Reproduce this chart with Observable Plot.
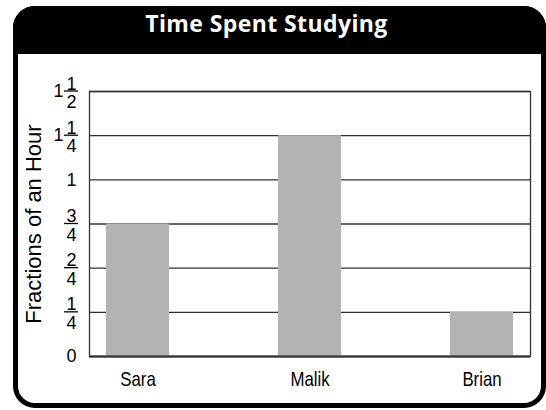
<!DOCTYPE html>
<html>
<head>
<meta charset="utf-8">
<script src="https://cdn.jsdelivr.net/npm/d3@7"></script>
<script src="https://cdn.jsdelivr.net/npm/@observablehq/plot@0.6"></script>
<style>
  html, body { margin: 0; padding: 0; background: white; width: 546px; height: 410px; overflow: hidden; }
  #box { position: absolute; left: 13px; top: 6px; width: 533px; height: 402px; box-sizing: border-box;
         border: 5px solid #000; border-radius: 22px; background: #fff; }
  #head { position: absolute; left: 13px; top: 6px; width: 533px; height: 48px; background: #000;
          border-radius: 22px 22px 0 0; }
  #title { position: absolute; left: 0px; top: 12px; width: 533px; text-align: center; color: #fff;
           font-family: "Open Sans", "Noto Sans", sans-serif; font-weight: 700; font-size: 23px; line-height: 23px;
           letter-spacing: 0.4px; }
  #chart { position: absolute; left: 0; top: 54px; }
</style>
</head>
<body>
<div id="box"></div>
<div id="head"></div>
<div id="title">Time Spent Studying</div>
<div id="chart"></div>
<script>
const names = ["Sara", "Malik", "Brian"];
const hours = [0.75, 1.25, 0.25];

const tickValues = [0, 0.25, 0.5, 0.75, 1, 1.25, 1.5];
const tickWhole  = ["0", "", "", "", "1", "1", "1"];
const tickNum    = ["", "1", "2", "3", "", "1", "1"];
const tickDen    = ["", "4", "4", "4", "", "4", "2"];
const axisTitle = "Fractions of an Hour";

const data = names.map((name, i) => ({name, value: hours[i]}));
const ticks = tickValues.map((v, i) => ({v, whole: tickWhole[i], num: tickNum[i], den: tickDen[i]}));
const fracTicks = ticks.filter(d => d.num !== "");
const plainTicks = ticks.filter(d => d.num === "");
const mixedTicks = ticks.filter(d => d.num !== "" && d.whole !== "");

const tickFont = "'Liberation Sans', Arial, Helvetica, sans-serif";

function fractionBars(index, scales, values, dimensions) {
  const ns = "http://www.w3.org/2000/svg";
  const g = document.createElementNS(ns, "g");
  for (const t of fracTicks) {
    const line = document.createElementNS(ns, "line");
    const y = scales.y(t.v);
    line.setAttribute("x1", dimensions.marginLeft - 25);
    line.setAttribute("x2", dimensions.marginLeft - 11);
    line.setAttribute("y1", y);
    line.setAttribute("y2", y);
    line.setAttribute("stroke", "#000");
    line.setAttribute("stroke-width", 1.3);
    g.appendChild(line);
  }
  return g;
}

const chart = Plot.plot({
  width: 546,
  height: 356,
  marginTop: 37,
  marginBottom: 54,
  marginLeft: 89,
  marginRight: 16,
  style: {background: "transparent", color: "#000"},
  x: {domain: names, paddingInner: 0.635, paddingOuter: 0.096, axis: null},
  y: {domain: [0, 1.5], axis: null},
  marks: [
    Plot.ruleY(tickValues, {stroke: "#333", strokeWidth: 1.3}),
    Plot.barY(data, {x: "name", y: "value", fill: "#b3b3b3"}),
    Plot.ruleY([0], {stroke: "#333", strokeWidth: 2}),
    Plot.frame({stroke: "#333", strokeWidth: 1.3}),
    // x labels
    Plot.text(data, {x: "name", frameAnchor: "bottom", dy: 29, text: "name",
      textAnchor: "middle", fontSize: 21, fontFamily: tickFont, fill: "#000"}),
    // plain y ticks
    Plot.text(plainTicks, {y: "v", text: "whole", frameAnchor: "left", dx: -18,
      textAnchor: "middle", fontSize: 18, fontFamily: tickFont, fill: "#000"}),
    // whole parts of mixed numbers
    Plot.text(mixedTicks, {y: "v", text: "whole", frameAnchor: "left", dx: -31,
      textAnchor: "middle", fontSize: 18, fontFamily: tickFont, fill: "#000"}),
    // numerators
    Plot.text(fracTicks, {y: "v", text: "num", frameAnchor: "left", dx: -18, dy: -2,
      lineAnchor: "bottom", textAnchor: "middle", fontSize: 18, fontFamily: tickFont, fill: "#000"}),
    // denominators
    Plot.text(fracTicks, {y: "v", text: "den", frameAnchor: "left", dx: -18, dy: 4,
      lineAnchor: "top", textAnchor: "middle", fontSize: 18, fontFamily: tickFont, fill: "#000"}),
    fractionBars,
    // axis title
    Plot.text([axisTitle], {frameAnchor: "left", dx: -56, rotate: -90, text: d => d,
      textAnchor: "middle", fontSize: 22, fontFamily: tickFont, fill: "#000"})
  ]
});
document.getElementById("chart").appendChild(chart);

// condense the category labels to mimic a narrow typeface
d3.select(chart).selectAll("text").each(function() {
  const nodes = this.querySelectorAll("tspan");
  const targets = nodes.length ? Array.from(nodes) : [this];
  for (const t of targets) {
    if (names.includes(t.textContent.trim())) {
      const w = t.getComputedTextLength();
      t.setAttribute("textLength", (w * 0.8).toFixed(2));
      t.setAttribute("lengthAdjust", "spacingAndGlyphs");
    }
  }
});
</script>
</body>
</html>
